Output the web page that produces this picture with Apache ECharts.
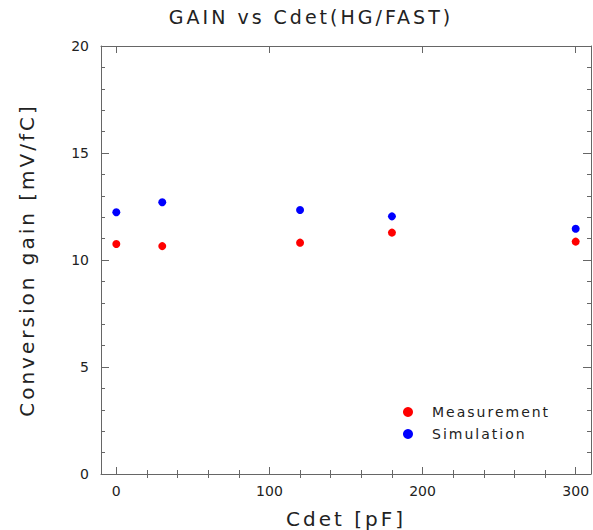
<!DOCTYPE html>
<html>
<head>
<meta charset="utf-8">
<script src="https://cdn.jsdelivr.net/npm/echarts@6/dist/echarts.min.js"></script>
<style>
html,body{margin:0;padding:0;background:#fff;}
#c{width:593px;height:530px;}
</style>
</head>
<body>
<div id="c"></div>
<script>
const cdet = [0, 30, 120, 180, 300];
const measurement = [10.75, 10.65, 10.81, 11.28, 10.86];
const simulation = [12.23, 12.70, 12.34, 12.04, 11.46];
const xMajorTicks = [0, 100, 200, 300];
const xMinorTicks = [20, 40, 60, 80, 120, 140, 160, 180, 220, 240, 260, 280];
const titleText = 'GAIN vs Cdet(HG/FAST)';
const xName = 'Cdet [pF]';
const yName = 'Conversion gain [mV/fC]';
const seriesNames = ['Measurement', 'Simulation'];

const font = 'DejaVu Sans';
const axisColor = '#666';
const textColor = '#222';

const chart = echarts.init(document.getElementById('c'), null, {renderer: 'svg'});
const pair = (xs, ys) => xs.map((x, i) => [x, ys[i]]);
const lineOn = {show: true, onZero: false, lineStyle: {color: axisColor, width: 1}};
const lineOff = {show: false};
function xAx(position, ticks, len, withLabel) {
  const ax = {
    type: 'value', min: -10, max: 310, position: position,
    axisLine: withLabel !== null ? lineOn : lineOff,
    axisTick: {show: true, inside: true, length: len, customValues: ticks,
      lineStyle: {color: axisColor, width: 1}},
    axisLabel: {show: false}, splitLine: {show: false}
  };
  if (withLabel) {
    ax.axisLabel = {show: true, customValues: ticks, fontFamily: font, fontSize: 14,
      color: textColor, margin: 10};
    ax.name = xName; ax.nameLocation = 'middle'; ax.nameGap = 35;
    ax.nameTextStyle = {fontFamily: font, fontSize: 20, color: textColor};
  }
  return ax;
}
const minor = {show: true, splitNumber: 5, length: 4, lineStyle: {color: axisColor, width: 1}};
chart.setOption({
  animation: false,
  title: {text: titleText, left: 306, top: 2, textAlign: 'center',
    textStyle: {fontFamily: font, fontSize: 19, fontWeight: 'normal', color: textColor}},
  grid: {left: 101, right: 2, top: 46, bottom: 56, containLabel: false, outerBoundsMode: 'none'},
  legend: {orient: 'vertical', left: 398, top: 400, itemWidth: 10, itemHeight: 10, itemGap: 8,
    icon: 'circle', data: seriesNames,
    textStyle: {fontFamily: font, fontSize: 14, color: textColor, padding: [0, 0, 0, 14]}},
  xAxis: [
    xAx('bottom', xMajorTicks, 7, true),
    xAx('bottom', xMinorTicks, 4, null),
    xAx('top', xMajorTicks, 7, false),
    xAx('top', xMinorTicks, 4, null)
  ],
  yAxis: [{
    type: 'value', min: 0, max: 20, interval: 5,
    name: yName, nameLocation: 'middle', nameGap: 64, nameRotate: 90,
    nameTextStyle: {fontFamily: font, fontSize: 20, color: textColor},
    axisLine: lineOn,
    axisTick: {show: true, inside: true, length: 8, lineStyle: {color: axisColor, width: 1}},
    minorTick: minor, splitLine: {show: false},
    axisLabel: {fontFamily: font, fontSize: 14, color: textColor, margin: 12}
  }, {
    type: 'value', min: 0, max: 20, interval: 5, position: 'right',
    axisLine: lineOn,
    axisTick: {show: true, inside: true, length: 8, lineStyle: {color: axisColor, width: 1}},
    minorTick: minor, axisLabel: {show: false}, splitLine: {show: false}
  }],
  series: [{
    name: seriesNames[0], type: 'scatter', symbol: 'circle', symbolSize: 8,
    itemStyle: {color: '#ff0000', opacity: 1}, data: pair(cdet, measurement)
  }, {
    name: seriesNames[1], type: 'scatter', symbol: 'circle', symbolSize: 8,
    itemStyle: {color: '#0000ff', opacity: 1}, data: pair(cdet, simulation)
  }]
});

// widen the letter spacing of titles and legend text, as in the reference's plotting font
function spaceLetters() {
  const wide = [titleText, xName, yName];
  document.querySelectorAll('#c svg text').forEach(function (t) {
    const s = t.textContent;
    if (wide.indexOf(s) >= 0) t.setAttribute('letter-spacing', '3px');
    else if (seriesNames.indexOf(s) >= 0) t.setAttribute('letter-spacing', '2px');
  });
}
chart.on('finished', spaceLetters);
spaceLetters();
setTimeout(spaceLetters, 0);
</script>
</body>
</html>
